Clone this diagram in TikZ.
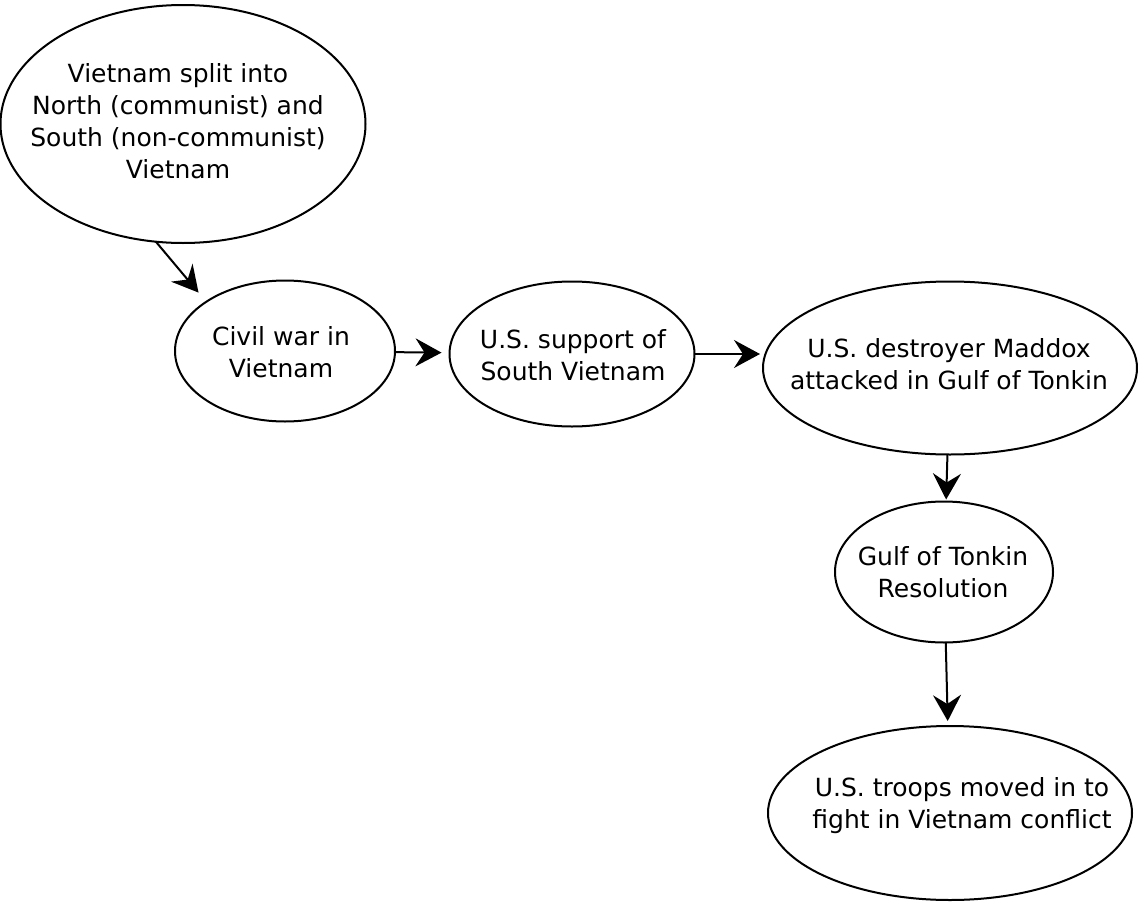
\documentclass[tikz,border=0pt]{standalone}
\usepackage{fontspec}
\setmainfont{DejaVu Sans}
\usetikzlibrary{shapes.geometric,arrows.meta}

\tikzset{
  event/.style={ellipse,draw,line width=2pt,inner sep=0pt,outer sep=0pt},
  eventtext/.style={align=center,inner sep=0pt,font=\fontsize{25}{32}\selectfont}
}

\begin{document}
\begin{tikzpicture}[x=1pt,y=-1pt,->,>={Stealth[length=26pt,width=28pt,inset=9pt]},line width=2pt]
\useasboundingbox (0,0) rectangle (1138,902);

\node[event, minimum width=365pt, minimum height=238pt] (n0) at (183,124) {};
\node[event, minimum width=220pt, minimum height=141pt] (n1) at (285,351) {};
\node[event, minimum width=245pt, minimum height=145pt] (n2) at (572,354) {};
\node[event, minimum width=374pt, minimum height=173pt] (n3) at (950,368) {};
\node[event, minimum width=218pt, minimum height=141pt] (n4) at (944,572) {};
\node[event, minimum width=364pt, minimum height=174pt] (n5) at (950,813) {};

\node[eventtext] (t0) at (178,121) {Vietnam split into\\North (communist) and\\South (non-communist)\\Vietnam};
\node[eventtext] (t1) at (281,352) {Civil war in\\Vietnam};
\node[eventtext] (t2) at (573,355) {U.S. support of\\South Vietnam};
\node[eventtext] (t3) at (949,364) {U.S. destroyer Maddox\\attacked in Gulf of Tonkin};
\node[eventtext] (t4) at (943,572) {Gulf of Tonkin\\Resolution};
\node[eventtext] (t5) at (962,806) {U.S. troops moved in to\\fight in Vietnam conflict};

\path[->] (n0.257) edge[shorten >=12pt] (n1.148);
\path[->] (n1) edge[shorten >=8pt] (n2);
\path[->] (n2.east) edge[shorten >=3pt] (n3.west |- n2.east);
\path[->] (n3) edge[shorten >=2pt] (n4);
\path[->] (n4) edge[shorten >=5pt] (n5);
\end{tikzpicture}
\end{document}
